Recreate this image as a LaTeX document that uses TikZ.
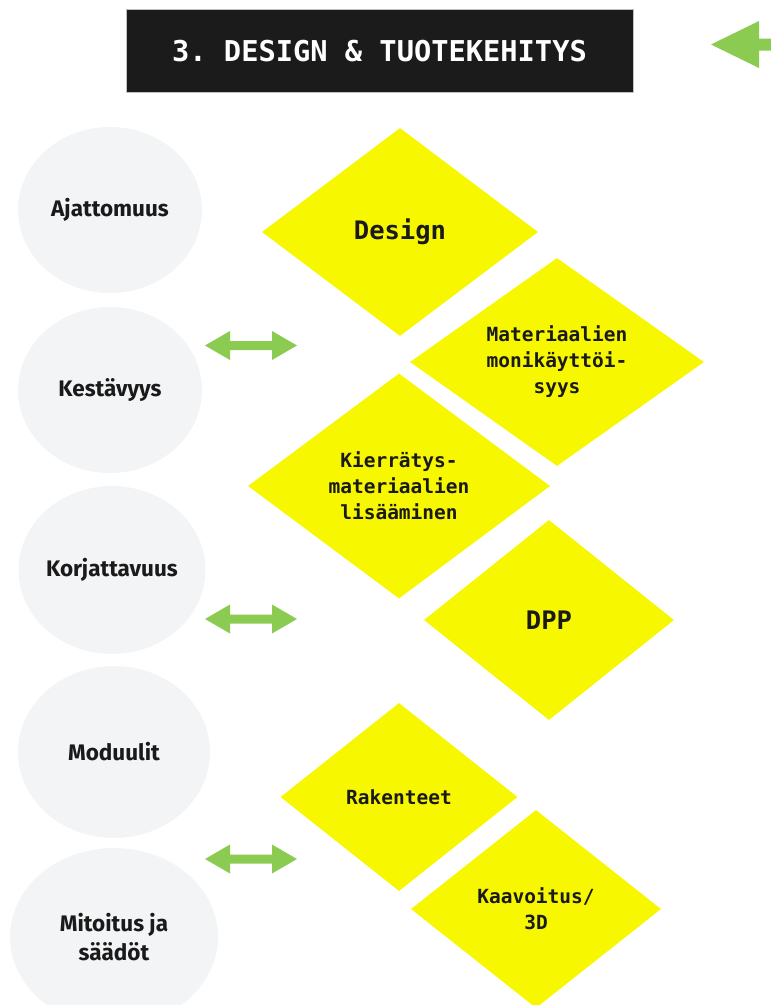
\documentclass[tikz,border=0pt]{standalone}
\usepackage{fontspec}
\setsansfont{Fira Sans}
\setmonofont{DejaVu Sans Mono}
\usetikzlibrary{shapes.geometric}
\definecolor{ybox}{RGB}{247,247,0}
\definecolor{agreen}{RGB}{140,203,82}
\definecolor{ovalgray}{RGB}{243,244,246}
\definecolor{titlebg}{RGB}{27,27,27}
\definecolor{ink}{RGB}{26,26,26}
\tikzset{
  oval/.style={ellipse, fill=ovalgray, draw=none, inner sep=0pt, text=ink,
    font=\sffamily\bfseries\fontsize{22.5}{29}\selectfont, align=center},
  dia/.style={diamond, aspect=1.3, fill=ybox, draw=none, inner sep=0pt, text=ink,
    font=\ttfamily\bfseries\fontsize{19.5}{26}\selectfont, align=center},
  bigdia/.style={dia, font=\ttfamily\bfseries\fontsize{25.5}{30}\selectfont},
  dblarrow/.pic={\fill[agreen] (-46,0) -- (-21,-14.5) -- (-21,-4.5) -- (21,-4.5) -- (21,-14.5)
     -- (46,0) -- (21,14.5) -- (21,4.5) -- (-21,4.5) -- (-21,14.5) -- cycle;}
}
\begin{document}
\begin{tikzpicture}[x=1pt,y=-1pt]
\useasboundingbox (0,0) rectangle (771,1005);
% title
\node[fill=titlebg, draw=black!25, line width=0.8pt, minimum width=507pt, minimum height=83pt,
  inner sep=0pt, text=white, font=\ttfamily\bfseries\fontsize{28.7}{30}\selectfont]
  (title) at (379.5,51) {3. DESIGN \& TUOTEKEHITYS};
% top-right arrow
\fill[agreen] (711,44.5) -- (759,21) -- (759,38.5) -- (771,38.5) -- (771,50.5) -- (759,50.5) -- (759,68) -- cycle;
% ovals
\node[oval, minimum width=184pt, minimum height=166pt] (ajat) at (110,210) {Ajattomuus};
\node[oval, minimum width=184pt, minimum height=166pt] (kest) at (110,390) {Kestävyys};
\node[oval, minimum width=187pt, minimum height=168pt] (korj) at (112,570) {Korjattavuus};
\node[oval, minimum width=192pt, minimum height=172pt] (modu) at (114,752) {Moduulit};
\node[oval, minimum width=208pt, minimum height=178pt] (mito) at (114,937) {Mitoitus ja\\säädöt};
% diamonds
\node[bigdia, minimum width=276pt, minimum height=208pt] (design) at (400,232) {Design};
\node[dia, minimum width=294pt, minimum height=208pt] (mater) at (557,362) {Materiaalien\\monikäyttöi-\\syys};
\node[dia, minimum width=302pt, minimum height=225pt] (kierr) at (399,486) {Kierrätys-\\materiaalien\\lisääminen};
\node[bigdia, minimum width=250pt, minimum height=200pt] (dpp) at (549,620) {DPP};
\node[dia, minimum width=237pt, minimum height=188pt] (rak) at (399,797) {Rakenteet};
\node[dia, minimum width=250pt, minimum height=198pt] (kaav) at (536,909) {Kaavoitus/\\3D};
% double arrows
\pic (a1) at (251,345.5) {dblarrow};
\pic (a2) at (251,619) {dblarrow};
\pic (a3) at (251,859) {dblarrow};
\end{tikzpicture}
\end{document}
